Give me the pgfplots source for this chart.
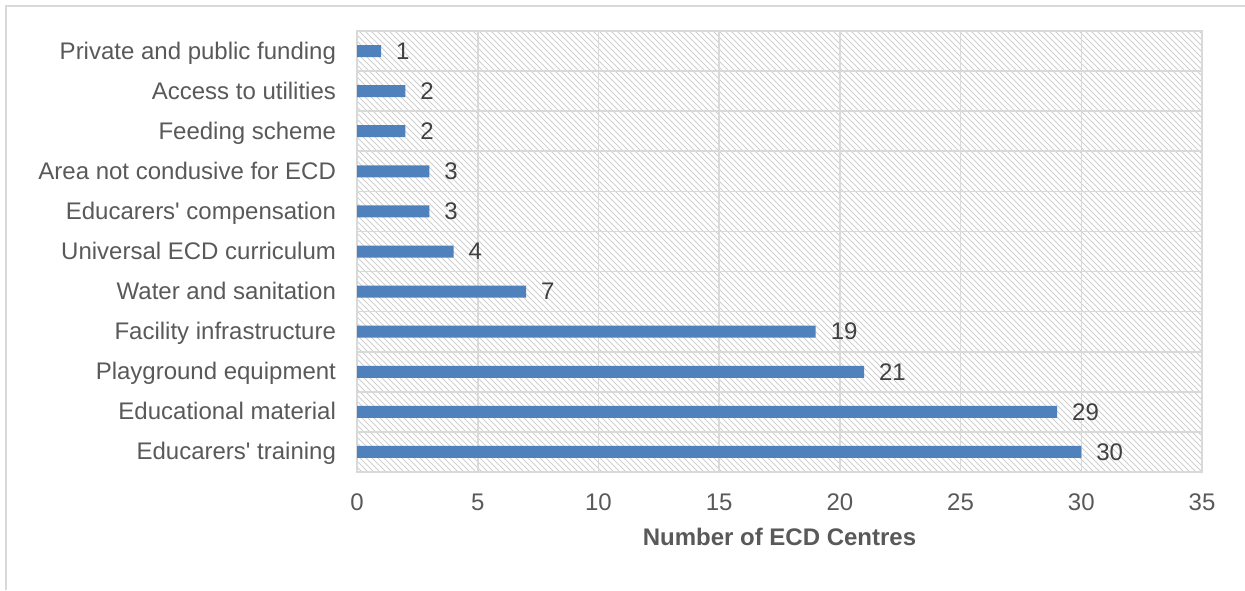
\documentclass[border=0pt]{standalone}
\usepackage{fontspec}
\setmainfont{Liberation Sans}
\usepackage{pgfplots}
\pgfplotsset{compat=1.18}
\usetikzlibrary{patterns}
\definecolor{barblue}{HTML}{4F81BD}
\definecolor{gridgray}{HTML}{D9D9D9}
\definecolor{hatchgray}{HTML}{D0D0D0}
\definecolor{txtgray}{HTML}{595959}
\definecolor{lblgray}{HTML}{404040}

\begin{document}
\begin{tikzpicture}
% picture is 1245x590 px, drawn at 0.5pt per px
\useasboundingbox (0,0) rectangle (622.5pt,295pt);
\draw[gridgray, line width=0.8pt] (3pt,0) -- (3pt,292pt) -- (622.5pt,292pt);
\begin{axis}[
    at={(178.5pt,59pt)}, anchor=south west,
    scale only axis,
    width=422.5pt, height=220.5pt,
    xbar, bar width=6pt,
    xmin=0, xmax=35, xtick={0,5,...,35},
    ymin=-0.5, ymax=10.5,
    ytick={0,...,10},
    minor ytick={-0.5,0.5,...,10.5},
    yticklabels={Educarers\textquotesingle\ training, Educational material, Playground equipment,
        Facility infrastructure\hspace{0.28em}, Water and sanitation, Universal ECD curriculum\hspace{0.28em},
        Educarers\textquotesingle\ compensation, Area not condusive for ECD, Feeding scheme,
        Access to utilities, Private and public funding},
    xmajorgrids, yminorgrids,
    grid style={gridgray, line width=0.8pt},
    minor grid style={gridgray, line width=0.8pt},
    major tick length=0pt, minor tick length=0pt,
    axis line style={gridgray, line width=0.8pt},
    axis background/.style={pattern=north west lines, pattern color=hatchgray},
    tick label style={font=\fontsize{12}{14}\selectfont, text=txtgray},
    yticklabel style={xshift=-7pt, yshift=-1.5pt, text height=0.72em, text depth=0.22em},
    xticklabel style={yshift=-7.5pt},
    xlabel={\textbf{Number of ECD Centres}},
    xlabel style={font=\fontsize{12}{14}\selectfont, text=txtgray, yshift=-1.5pt},
    /pgf/number format/assume math mode=true,
    nodes near coords,
    every node near coord/.append style={font=\fontsize{12}{14}\selectfont, text=lblgray, xshift=4pt},
]
\addplot[draw=none, fill=barblue] coordinates {
    (30,0) (29,1) (21,2) (19,3) (7,4) (4,5) (3,6) (3,7) (2,8) (2,9) (1,10)
};
\end{axis}
\end{tikzpicture}
\end{document}
